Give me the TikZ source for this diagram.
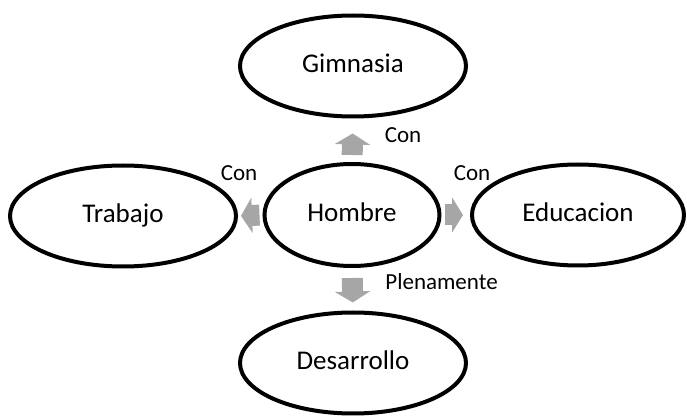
\documentclass[tikz,border=0pt]{standalone}
\usepackage{fontspec}
\setmainfont{Carlito}
\usepackage{xcolor}
\usepackage{tikz}
\usetikzlibrary{arrows.meta,
                positioning,
                shapes.geometric}
\definecolor{arrowgray}{RGB}{166,166,166}

\begin{document}
\begin{tikzpicture}[x=0.5pt, y=-0.5pt,
  idea/.style={draw, ellipse, line width=2pt, inner sep=0pt, minimum width=113pt, minimum height=50.5pt, font=\fontsize{13.5}{16}\selectfont, text height=1.38ex, text depth=0pt},
  link/.style={arrowgray, line width=10.5pt, -{Triangle[width=17.5pt, length=5.5pt]}},
  tag/.style={inner sep=0pt, font=\fontsize{11.5}{14}\selectfont, text height=1.38ex, text depth=0pt}]
\useasboundingbox (0,0) rectangle (687,417);
\node[idea] (gym) at (353,66) {Gimnasia};
\node[idea, minimum width=87.5pt, minimum height=51pt] (man) at (352,215) {Hombre};
\node[idea] (work) at (123,216) {Trabajo};
\node[idea, minimum width=106pt] (edu) at (578,215) {Educacion};
\node[idea] (grow) at (353,363) {Desarrollo};
\draw[link, shorten <=3.5pt, shorten >=7.5pt] (man.north) -- (gym.south);
\draw[link, shorten <=5pt, shorten >=4pt] (man.south) -- (grow.north);
\draw[link, shorten <=1.5pt, shorten >=1.5pt] (man.west) -- (work.east);
\draw[link, shorten <=1.5pt, shorten >=3.5pt] (man.east) -- (edu.west);
\node[tag] (conup) at (403,136) {Con};
\node[tag] (conleft) at (239,174) {Con};
\node[tag] (conright) at (472,174) {Con};
\node[tag, anchor=west] (full) at (385,283) {Plenamente};
\end{tikzpicture}
\end{document}
